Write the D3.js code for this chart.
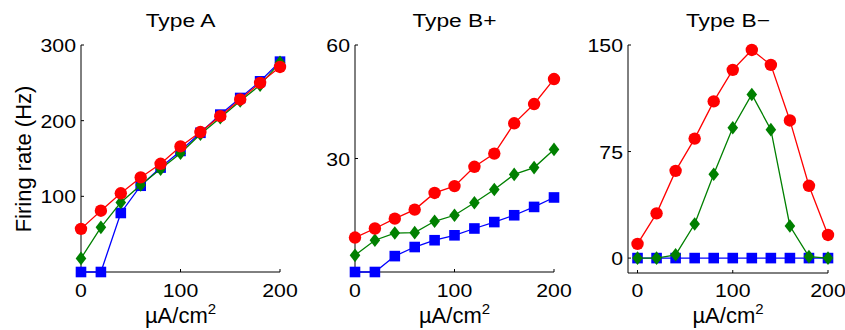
<!DOCTYPE html>
<html><head><meta charset="utf-8">
<script src="https://cdn.jsdelivr.net/npm/d3@7"></script>
<style>body{margin:0;background:#fff}svg{display:block}text{font-family:"Liberation Sans",Arial,Helvetica,sans-serif;fill:#000}</style>
</head><body><svg id="c" width="845" height="330"></svg>
<script>
const currents = [0,20,40,60,80,100,120,140,160,180,200];
const titles = ["Type A","Type B+","Type B\u2212"];
const xTicks = [0,100,200];
const yTicksA = [100,200,300];
const yTicksBp = [30,60];
const yTicksBm = [0,75,150];
const typeA_red   = [57,81,104,125,143,166,185,206,228,250,271];
const typeA_green = [18,59,92,115,136,157,182,204,226,247,277];
const typeA_blue  = [0,0,78,114,138,160,184,208,230,252,278];
const typeBp_red   = [9.1,11.5,14.1,16.5,20.9,22.7,27.8,31.3,39.3,44.4,51.0];
const typeBp_green = [4.4,8.4,10.3,10.4,13.4,15.0,18.3,21.8,25.8,27.6,32.4];
const typeBp_blue  = [0,0,4.2,6.6,8.4,9.7,11.5,13.2,15.0,17.2,19.7];
const typeBm_red   = [10,31.5,61.4,84.1,110.3,132.5,146.5,136,96.9,50.9,16.3];
const typeBm_green = [0,0,2.3,24,59,91.8,115.2,90.4,22.6,1,0];
const typeBm_blue  = [0,0,0,0,0,0,0,0,0,0,0];
const yLabel = "Firing rate (Hz)";

const colors = {blue:"#0000ff", green:"#008000", red:"#ff0000"};
const svg = d3.select("#c");

const panels = [
  {title:titles[0], xd:[0,200], xr:[81,280], yd:[0,300], yr:[272,45], yt:yTicksA,
   series:[["blue",typeA_blue],["green",typeA_green],["red",typeA_red]]},
  {title:titles[1], xd:[0,200], xr:[355,554], yd:[0,60], yr:[272,45], yt:yTicksBp,
   series:[["blue",typeBp_blue],["green",typeBp_green],["red",typeBp_red]]},
  {title:titles[2], xd:[-10,200], xr:[628,828], yd:[-10.5,150], yr:[273,45], yt:yTicksBm,
   series:[["blue",typeBm_blue],["green",typeBm_green],["red",typeBm_red]]}
];

function stext(g, x, y, str, size, sx, anchor){
  return g.append("text").attr("transform",`translate(${x},${y}) scale(${sx},1)`)
    .attr("font-size",size).attr("text-anchor",anchor).text(str);
}

panels.forEach((p,i)=>{
  const x = d3.scaleLinear().domain(p.xd).range(p.xr);
  const y = d3.scaleLinear().domain(p.yd).range(p.yr);
  const g = svg.append("g");
  // axes lines
  g.append("line").attr("x1",p.xr[0]).attr("x2",p.xr[1]).attr("y1",p.yr[0]).attr("y2",p.yr[0]).attr("stroke","#000").attr("stroke-width",1);
  g.append("line").attr("x1",p.xr[0]).attr("x2",p.xr[0]).attr("y1",p.yr[0]).attr("y2",p.yr[1]).attr("stroke","#000").attr("stroke-width",1);
  // x ticks
  xTicks.forEach(t=>{
    g.append("line").attr("x1",x(t)).attr("x2",x(t)).attr("y1",p.yr[0]).attr("y2",p.yr[0]-3).attr("stroke","#000");
    stext(g, x(t), 297, d3.format("d")(t), 19, 1.12, "middle");
  });
  p.yt.forEach(t=>{
    g.append("line").attr("x1",p.xr[0]).attr("x2",p.xr[0]+3).attr("y1",y(t)).attr("y2",y(t)).attr("stroke","#000");
    stext(g, p.xr[0]-5, y(t)+7, d3.format("d")(t), 19, 1.12, "end");
  });
  // title
  stext(g, (p.xr[0]+p.xr[1])/2, 27, p.title, 19, 1.2, "middle");
  // x label
  const xl = g.append("text").attr("x",(p.xr[0]+p.xr[1])/2).attr("y",323).attr("font-size",22).attr("text-anchor","middle");
  xl.append("tspan").text("\u00b5A/cm");
  xl.append("tspan").attr("font-size",15).attr("dy",-9).text("2");

  const line = d3.line().x((d,j)=>x(currents[j])).y(d=>y(d));
  p.series.forEach(([c,vals])=>{
    const col = colors[c];
    g.append("path").attr("d",line(vals)).attr("fill","none").attr("stroke",col).attr("stroke-width",1.3);
    const m = g.append("g").attr("fill",col);
    vals.forEach((v,j)=>{
      const cx = x(currents[j]), cy = y(v);
      if(c==="red") m.append("circle").attr("cx",cx).attr("cy",cy).attr("r",6.2);
      else if(c==="green") m.append("path").attr("d",`M${cx},${cy-6.8}L${cx+5.3},${cy}L${cx},${cy+6.8}L${cx-5.3},${cy}Z`);
      else m.append("rect").attr("x",cx-5.3).attr("y",cy-5.3).attr("width",10.6).attr("height",10.6);
    });
  });
});

svg.append("text").attr("transform","translate(31,159) rotate(-90)").attr("font-size",22).attr("text-anchor","middle").text(yLabel);
</script></body></html>
